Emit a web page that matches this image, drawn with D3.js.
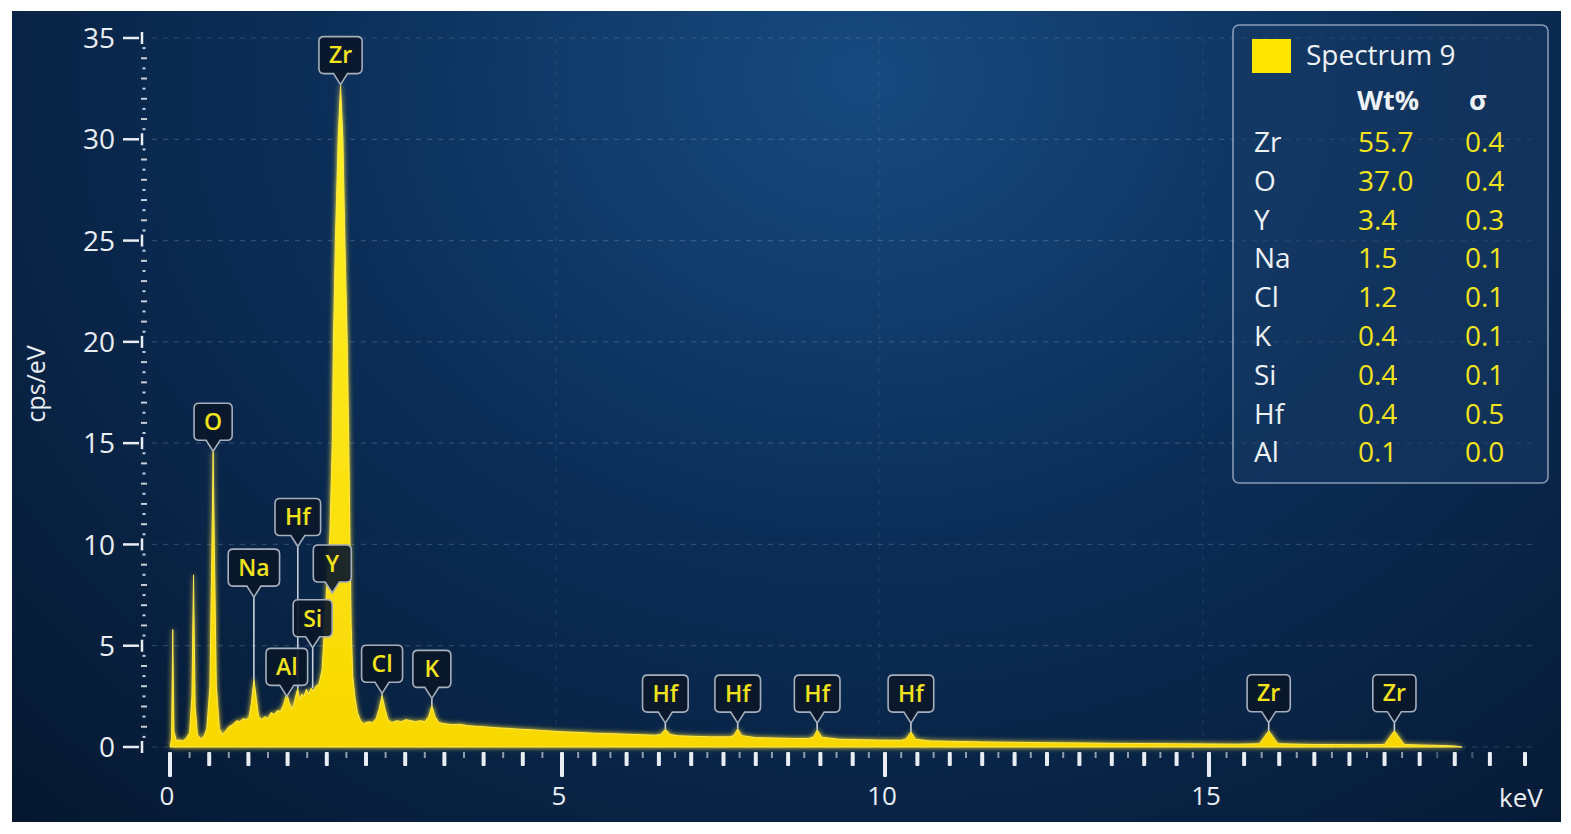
<!DOCTYPE html>
<html><head><meta charset="utf-8">
<script src="https://cdn.jsdelivr.net/npm/d3@7"></script>
<style>
html,body{margin:0;padding:0;background:#fff;}
svg{display:block;font-family:"Open Sans","Noto Sans",sans-serif;}
</style></head><body>
<svg id="chart" width="1571" height="834"></svg>
<script>
// ---------- DATA ----------
const seriesName = "Spectrum 9";
// spectrum points [keV, cps/eV]
const spectrum = [
[0.00,0],[0.02,0.4],[0.035,5.8],[0.05,0.8],[0.08,0.3],[0.12,0.35],[0.16,0.3],[0.20,0.4],[0.25,0.7],[0.28,2.5],[0.30,8.5],[0.32,2.0],[0.35,0.6],[0.39,0.4],[0.43,0.5],[0.47,0.9],[0.51,3.0],[0.535,10],[0.55,14.6],[0.565,10],[0.59,3.0],[0.63,0.9],[0.67,0.6],[0.71,0.8],[0.75,1.0],[0.80,1.1],[0.85,1.3],[0.89,1.25],[0.93,1.4],[0.97,1.35],[1.01,1.5],[1.04,2.2],[1.07,3.35],[1.10,2.4],[1.13,1.5],[1.17,1.35],[1.21,1.5],[1.25,1.4],[1.29,1.7],[1.33,1.6],[1.37,1.8],[1.41,1.75],[1.45,2.1],[1.49,2.65],[1.52,2.2],[1.55,1.85],[1.58,2.1],[1.61,2.6],[1.63,2.9],[1.65,2.3],[1.68,2.6],[1.71,2.5],[1.74,2.85],[1.77,2.6],[1.80,2.9],[1.83,2.75],[1.86,3.0],[1.90,3.1],[1.94,3.8],[1.97,5.8],[2.00,7.9],[2.04,10.5],[2.07,15],[2.085,20],[2.11,25],[2.145,30],[2.175,32.7],[2.205,30],[2.23,25],[2.26,20],[2.28,15],[2.295,10],[2.31,6],[2.33,3.5],[2.36,2.4],[2.39,1.7],[2.43,1.3],[2.47,1.15],[2.53,1.25],[2.58,1.2],[2.63,1.4],[2.67,1.9],[2.705,2.55],[2.74,1.9],[2.78,1.35],[2.83,1.2],[2.89,1.3],[2.95,1.25],[3.01,1.35],[3.07,1.3],[3.13,1.25],[3.19,1.3],[3.25,1.25],[3.30,1.5],[3.34,2.05],[3.38,1.5],[3.43,1.2],[3.5,1.15],[3.6,1.1],[3.7,1.12],[3.8,1.05],[3.9,1.02],[4.0,1.0],[4.15,0.95],[4.3,0.92],[4.45,0.88],[4.6,0.85],[4.8,0.8],[5.0,0.75],[5.25,0.72],[5.5,0.68],[5.75,0.66],[6.0,0.63],[6.25,0.6],[6.45,0.58],[6.53,0.62],[6.6,0.88],[6.67,0.62],[6.8,0.55],[7.0,0.53],[7.3,0.5],[7.6,0.5],[7.66,0.56],[7.72,0.9],[7.78,0.56],[8.0,0.46],[8.3,0.44],[8.6,0.42],[8.82,0.42],[8.9,0.5],[8.95,0.85],[9.02,0.48],[9.3,0.38],[9.6,0.36],[9.9,0.34],[10.25,0.33],[10.33,0.4],[10.4,0.75],[10.47,0.38],[10.7,0.3],[11,0.28],[11.5,0.25],[12,0.23],[12.5,0.21],[13,0.2],[13.5,0.18],[14,0.17],[14.5,0.16],[15,0.15],[15.4,0.14],[15.72,0.16],[15.85,0.8],[15.98,0.16],[16.4,0.13],[16.8,0.12],[17.2,0.11],[17.5,0.12],[17.64,0.8],[17.78,0.12],[18.0,0.1],[18.3,0.08],[18.5,0.05],[18.6,0]
];
// peak labels: element, keV, top of peak, label pointer tip (cps/eV)
const labelEl   = ["Zr","O","Hf","Na","Y","Si","Al","Cl","K","Hf","Hf","Hf","Hf","Zr","Zr"];
const labelKeV  = [2.175,0.55,1.63,1.07,2.07,1.82,1.49,2.705,3.34,6.6,7.72,8.95,10.4,15.85,17.64];
const labelPeak = [32.7,14.6,2.9,3.35,7.6,2.9,2.5,2.55,2.05,0.88,0.9,0.85,0.75,0.8,0.8];
const labelTip  = [32.7,14.6,9.9,7.4,7.6,4.9,2.5,2.65,2.4,1.18,1.18,1.18,1.18,1.2,1.2];
// legend table
const legendElements = ["Zr","O","Y","Na","Cl","K","Si","Hf","Al"];
const legendWt       = ["55.7","37.0","3.4","1.5","1.2","0.4","0.4","0.4","0.1"];
const legendSigma    = ["0.4","0.4","0.3","0.1","0.1","0.1","0.1","0.5","0.0"];
const yTicks = [0,5,10,15,20,25,30,35];
const xTickLabels = [0,5,10,15];
const xUnit = "keV";
const yUnit = "cps/eV";

// ---------- DRAW ----------
const svg = d3.select("#chart");
const defs = svg.append("defs");
const bg = defs.append("radialGradient").attr("id","bg").attr("cx","0.55").attr("cy","0.08").attr("r","0.8")
  .attr("gradientTransform","translate(0.55,0.08) scale(1,1.6) translate(-0.55,-0.08)");
bg.append("stop").attr("offset","0").attr("stop-color","#174a80");
bg.append("stop").attr("offset","0.45").attr("stop-color","#0b2e58");
bg.append("stop").attr("offset","1").attr("stop-color","#05172f");
const fillG = defs.append("linearGradient").attr("id","fillg").attr("x1",0).attr("y1",0).attr("x2",0).attr("y2",1);
fillG.append("stop").attr("offset","0").attr("stop-color","#fff12a");
fillG.append("stop").attr("offset","1").attr("stop-color","#f8d800");
const glow = defs.append("filter").attr("id","glow").attr("x","-20%").attr("y","-20%").attr("width","140%").attr("height","140%");
glow.append("feGaussianBlur").attr("stdDeviation",2.5).attr("result","b");
const fm = glow.append("feMerge"); fm.append("feMergeNode").attr("in","b"); fm.append("feMergeNode").attr("in","SourceGraphic");

svg.append("rect").attr("x",12).attr("y",11).attr("width",1549).attr("height",811).attr("fill","url(#bg)");

const x = d3.scaleLinear().domain([0,5,10,15,19.5]).range([170,562,885,1209,1525]);
const y = d3.scaleLinear().domain([0,35]).range([747,38]);

// grid
const grid = svg.append("g");
grid.selectAll("line.h").data(yTicks).join("line")
  .attr("x1",152).attr("x2",1535).attr("y1",d=>y(d)).attr("y2",d=>y(d))
  .attr("stroke","rgba(170,195,230,0.22)").attr("stroke-width",1.2).attr("stroke-dasharray","5 6");
grid.selectAll("line.v").data([5,10,15]).join("line")
  .attr("x1",d=>x(d)-6).attr("x2",d=>x(d)-6).attr("y1",y(35)).attr("y2",y(0))
  .attr("stroke","rgba(170,195,230,0.12)").attr("stroke-width",1).attr("stroke-dasharray","5 6");

// y axis
const ya = svg.append("g").attr("fill","#e9eef4").attr("stroke","#e9eef4");
ya.selectAll("line.minor").data(d3.range(0,35.01,0.5).filter(v=>v%5!==0)).join("line")
  .attr("x1",d=>Number.isInteger(d)?141:142.5).attr("x2",d=>Number.isInteger(d)?147:145.5)
  .attr("y1",d=>y(d)).attr("y2",d=>y(d)).attr("stroke-width",2).attr("opacity",0.85);
ya.selectAll("line.major").data(yTicks).join("line")
  .attr("x1",123).attr("x2",139).attr("y1",d=>y(d)).attr("y2",d=>y(d)).attr("stroke-width",2.5);
ya.selectAll("line.majv").data(yTicks).join("line")
  .attr("x1",142).attr("x2",142).attr("y1",d=>y(d)-6).attr("y2",d=>y(d)+6).attr("stroke-width",2.5);
ya.selectAll("text").data(yTicks).join("text")
  .attr("x",115).attr("y",d=>y(d)).attr("dy","0.36em").attr("text-anchor","end")
  .attr("stroke","none").attr("font-size",28).text(d=>d);
svg.append("text").attr("transform","translate(45,384) rotate(-90)").attr("text-anchor","middle")
  .attr("fill","#e9eef4").attr("font-size",25).text(yUnit);

// x axis
const xa = svg.append("g").attr("fill","#e9eef4");
xa.selectAll("rect.short").data(d3.range(0.25,19,0.5)).join("rect")
  .attr("x",d=>x(d)-1).attr("y",752).attr("width",2).attr("height",6).attr("opacity",d=>d>18?0.3:0.6);
xa.selectAll("rect.tall").data(d3.range(0,19.51,0.5).filter(v=>v%5!==0)).join("rect")
  .attr("x",d=>x(d)-2).attr("y",752).attr("width",4).attr("height",14).attr("rx",1);
xa.selectAll("rect.major").data(xTickLabels).join("rect")
  .attr("x",d=>x(d)-2).attr("y",752).attr("width",4).attr("height",25).attr("rx",1);
xa.selectAll("text").data(xTickLabels).join("text")
  .attr("x",d=>x(d)-3).attr("y",805).attr("text-anchor","middle").attr("font-size",26).text(d=>d);
svg.append("text").attr("x",1521).attr("y",807).attr("text-anchor","middle")
  .attr("fill","#e9eef4").attr("font-size",26).text(xUnit);

// spectrum
const area = d3.area().x(d=>x(d[0])).y0(y(0)).y1(d=>y(d[1]));
svg.append("path").datum(spectrum).attr("d",area).attr("fill","url(#fillg)")
  .attr("stroke","#ffe94d").attr("stroke-width",1).attr("stroke-linejoin","round").attr("filter","url(#glow)");

// peak labels
const labels = labelEl.map((el,i)=>({el, keV:labelKeV[i], peak:labelPeak[i], tip:labelTip[i]}));
const lg = svg.append("g");
lg.selectAll("line").data(labels.filter(d=>d.peak<d.tip)).join("line")
  .attr("x1",d=>x(d.keV)).attr("x2",d=>x(d.keV)).attr("y1",d=>y(d.tip)).attr("y2",d=>y(d.peak))
  .attr("stroke","#c9ced6").attr("stroke-width",1.6);
const bh=37, ph=11, pw=7, r=5;
labels.forEach(d=>{
  const g = lg.append("g");
  const cx = x(d.keV), tipY = y(d.tip);
  const t = g.append("text").attr("x",cx).attr("y",tipY-ph-bh/2).attr("dy","0.36em")
    .attr("text-anchor","middle").attr("font-size",23).attr("font-weight",600).attr("fill","#f3e31c").text(d.el);
  const w = Math.max(38, t.node().getComputedTextLength()+20);
  const x0=cx-w/2, x1=cx+w/2, y1=tipY-ph, y0=y1-bh;
  const p = `M${x0+r},${y0}H${x1-r}Q${x1},${y0} ${x1},${y0+r}V${y1-r}Q${x1},${y1} ${x1-r},${y1}H${cx+pw}L${cx},${tipY}L${cx-pw},${y1}H${x0+r}Q${x0},${y1} ${x0},${y1-r}V${y0+r}Q${x0},${y0} ${x0+r},${y0}Z`;
  g.insert("path","text").attr("d",p).attr("fill","#0a1729").attr("fill-opacity",0.92)
    .attr("stroke","#a7afbb").attr("stroke-width",1.6);
});

// legend
const L = svg.append("g");
L.append("rect").attr("x",1233).attr("y",25).attr("width",315).attr("height",458).attr("rx",6)
  .attr("fill","rgba(24,58,100,0.55)").attr("stroke","rgba(175,190,210,0.75)").attr("stroke-width",1.6);
L.append("rect").attr("x",1252).attr("y",39).attr("width",39).attr("height",34).attr("fill","#ffe600");
L.append("text").attr("x",1306).attr("y",65).attr("font-size",28).attr("fill","#eef2f6").text(seriesName);
L.append("text").attr("x",1357).attr("y",110).attr("font-size",27).attr("font-weight",700).attr("fill","#eef2f6").text("Wt%");
L.append("text").attr("x",1469).attr("y",110).attr("font-size",27).attr("font-weight",700).attr("fill","#eef2f6").text("σ");
legendElements.forEach((el,i)=>{
  const yy = 152 + i*38.8;
  L.append("text").attr("x",1254).attr("y",yy).attr("font-size",28).attr("fill","#eef2f6").text(el);
  L.append("text").attr("x",1358).attr("y",yy).attr("font-size",28).attr("fill","#f3e31c").text(legendWt[i]);
  L.append("text").attr("x",1465).attr("y",yy).attr("font-size",28).attr("fill","#f3e31c").text(legendSigma[i]);
});
</script>
</body></html>
